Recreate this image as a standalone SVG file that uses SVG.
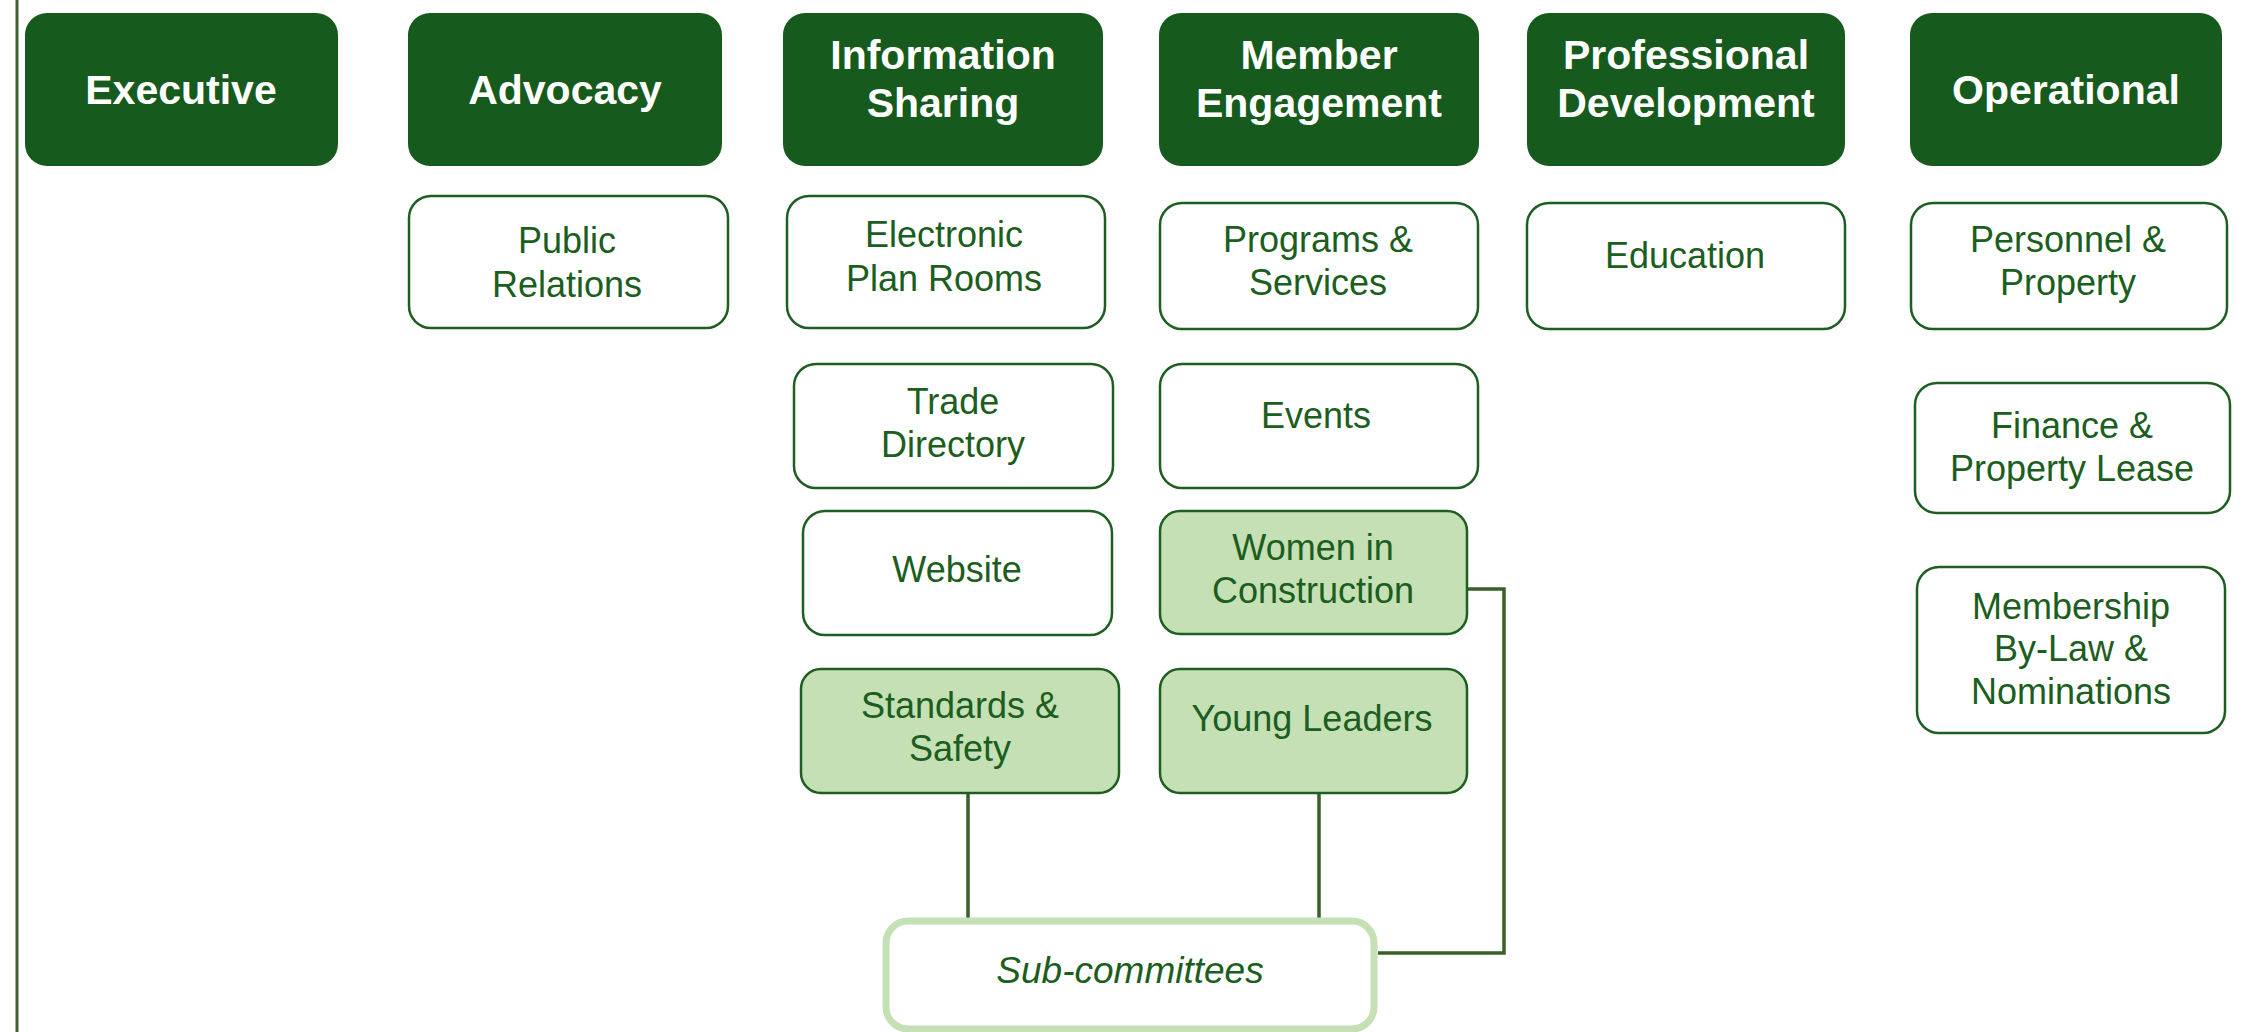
<svg xmlns="http://www.w3.org/2000/svg" width="2252" height="1032" viewBox="0 0 2252 1032">
<style>
.hd rect{fill:#165a1d;}
.hd text{fill:#ffffff;font-family:"Liberation Sans",Arial,sans-serif;font-weight:bold;font-size:41px;text-anchor:middle;}
.bx rect{fill:#ffffff;stroke:#1e5e22;stroke-width:2.5;}
.gr rect{fill:#c5e0b4;stroke:#1e5e22;stroke-width:2.5;}
.bx text,.gr text{fill:#1b5e20;font-family:"Liberation Sans",Arial,sans-serif;font-size:36px;text-anchor:middle;}
.sub rect{fill:#ffffff;stroke:#c5e0b4;stroke-width:7;}
.sub text{fill:#1b5e20;font-family:"Liberation Sans",Arial,sans-serif;font-style:italic;font-size:37px;text-anchor:middle;}
.conn{fill:none;stroke:#3a5f27;stroke-width:3.5;}
</style>
<line x1="17" y1="0" x2="17" y2="1032" stroke="#3e6330" stroke-width="3"/>
<g id="connectors">
<path class="conn" d="M968 793 V918"/>
<path class="conn" d="M1319 793 V918"/>
<path class="conn" d="M1467 589 H1504 V953 H1378"/>
</g>
<g id="executive" class="hd"><rect x="25" y="13" width="313" height="153" rx="22"/><text x="181" y="104">Executive</text></g>
<g id="advocacy" class="hd"><rect x="408" y="13" width="314" height="153" rx="22"/><text x="565" y="104">Advocacy</text></g>
<g id="information-sharing" class="hd"><rect x="783" y="13" width="320" height="153" rx="22"/><text x="943" y="69">Information</text><text x="943" y="117">Sharing</text></g>
<g id="member-engagement" class="hd"><rect x="1159" y="13" width="320" height="153" rx="22"/><text x="1319" y="69">Member</text><text x="1319" y="117">Engagement</text></g>
<g id="professional-development" class="hd"><rect x="1527" y="13" width="318" height="153" rx="22"/><text x="1686" y="69">Professional</text><text x="1686" y="117">Development</text></g>
<g id="operational" class="hd"><rect x="1910" y="13" width="312" height="153" rx="22"/><text x="2066" y="104">Operational</text></g>

<g id="public-relations" class="bx"><rect x="409" y="196" width="319" height="132" rx="22"/><text x="567" y="253">Public</text><text x="567" y="297">Relations</text></g>
<g id="electronic-plan-rooms" class="bx"><rect x="787" y="196" width="318" height="132" rx="22"/><text x="944" y="247">Electronic</text><text x="944" y="291">Plan Rooms</text></g>
<g id="trade-directory" class="bx"><rect x="794" y="364" width="319" height="124" rx="22"/><text x="953" y="414">Trade</text><text x="953" y="457">Directory</text></g>
<g id="website" class="bx"><rect x="803" y="511" width="309" height="124" rx="22"/><text x="957" y="582">Website</text></g>
<g id="standards-safety" class="gr"><rect x="801" y="669" width="318" height="124" rx="20"/><text x="960" y="718">Standards &amp;</text><text x="960" y="761">Safety</text></g>

<g id="programs-services" class="bx"><rect x="1160" y="203" width="318" height="126" rx="22"/><text x="1318" y="252">Programs &amp;</text><text x="1318" y="295">Services</text></g>
<g id="events" class="bx"><rect x="1160" y="364" width="318" height="124" rx="22"/><text x="1316" y="428">Events</text></g>
<g id="women-in-construction" class="gr"><rect x="1160" y="511" width="307" height="123" rx="20"/><text x="1313" y="560">Women in</text><text x="1313" y="603">Construction</text></g>
<g id="young-leaders" class="gr"><rect x="1160" y="669" width="307" height="124" rx="20"/><text x="1312" y="731">Young Leaders</text></g>

<g id="education" class="bx"><rect x="1527" y="203" width="318" height="126" rx="22"/><text x="1685" y="268">Education</text></g>

<g id="personnel-property" class="bx"><rect x="1911" y="203" width="316" height="126" rx="22"/><text x="2068" y="252">Personnel &amp;</text><text x="2068" y="295">Property</text></g>
<g id="finance-property-lease" class="bx"><rect x="1915" y="383" width="315" height="130" rx="22"/><text x="2072" y="438">Finance &amp;</text><text x="2072" y="481">Property Lease</text></g>
<g id="membership" class="bx"><rect x="1917" y="567" width="308" height="166" rx="22"/><text x="2071" y="619">Membership</text><text x="2071" y="661">By-Law &amp;</text><text x="2071" y="704">Nominations</text></g>

<g id="sub-committees" class="sub"><rect x="886" y="921" width="488" height="108" rx="22"/><text x="1130" y="983">Sub-committees</text></g>
</svg>
